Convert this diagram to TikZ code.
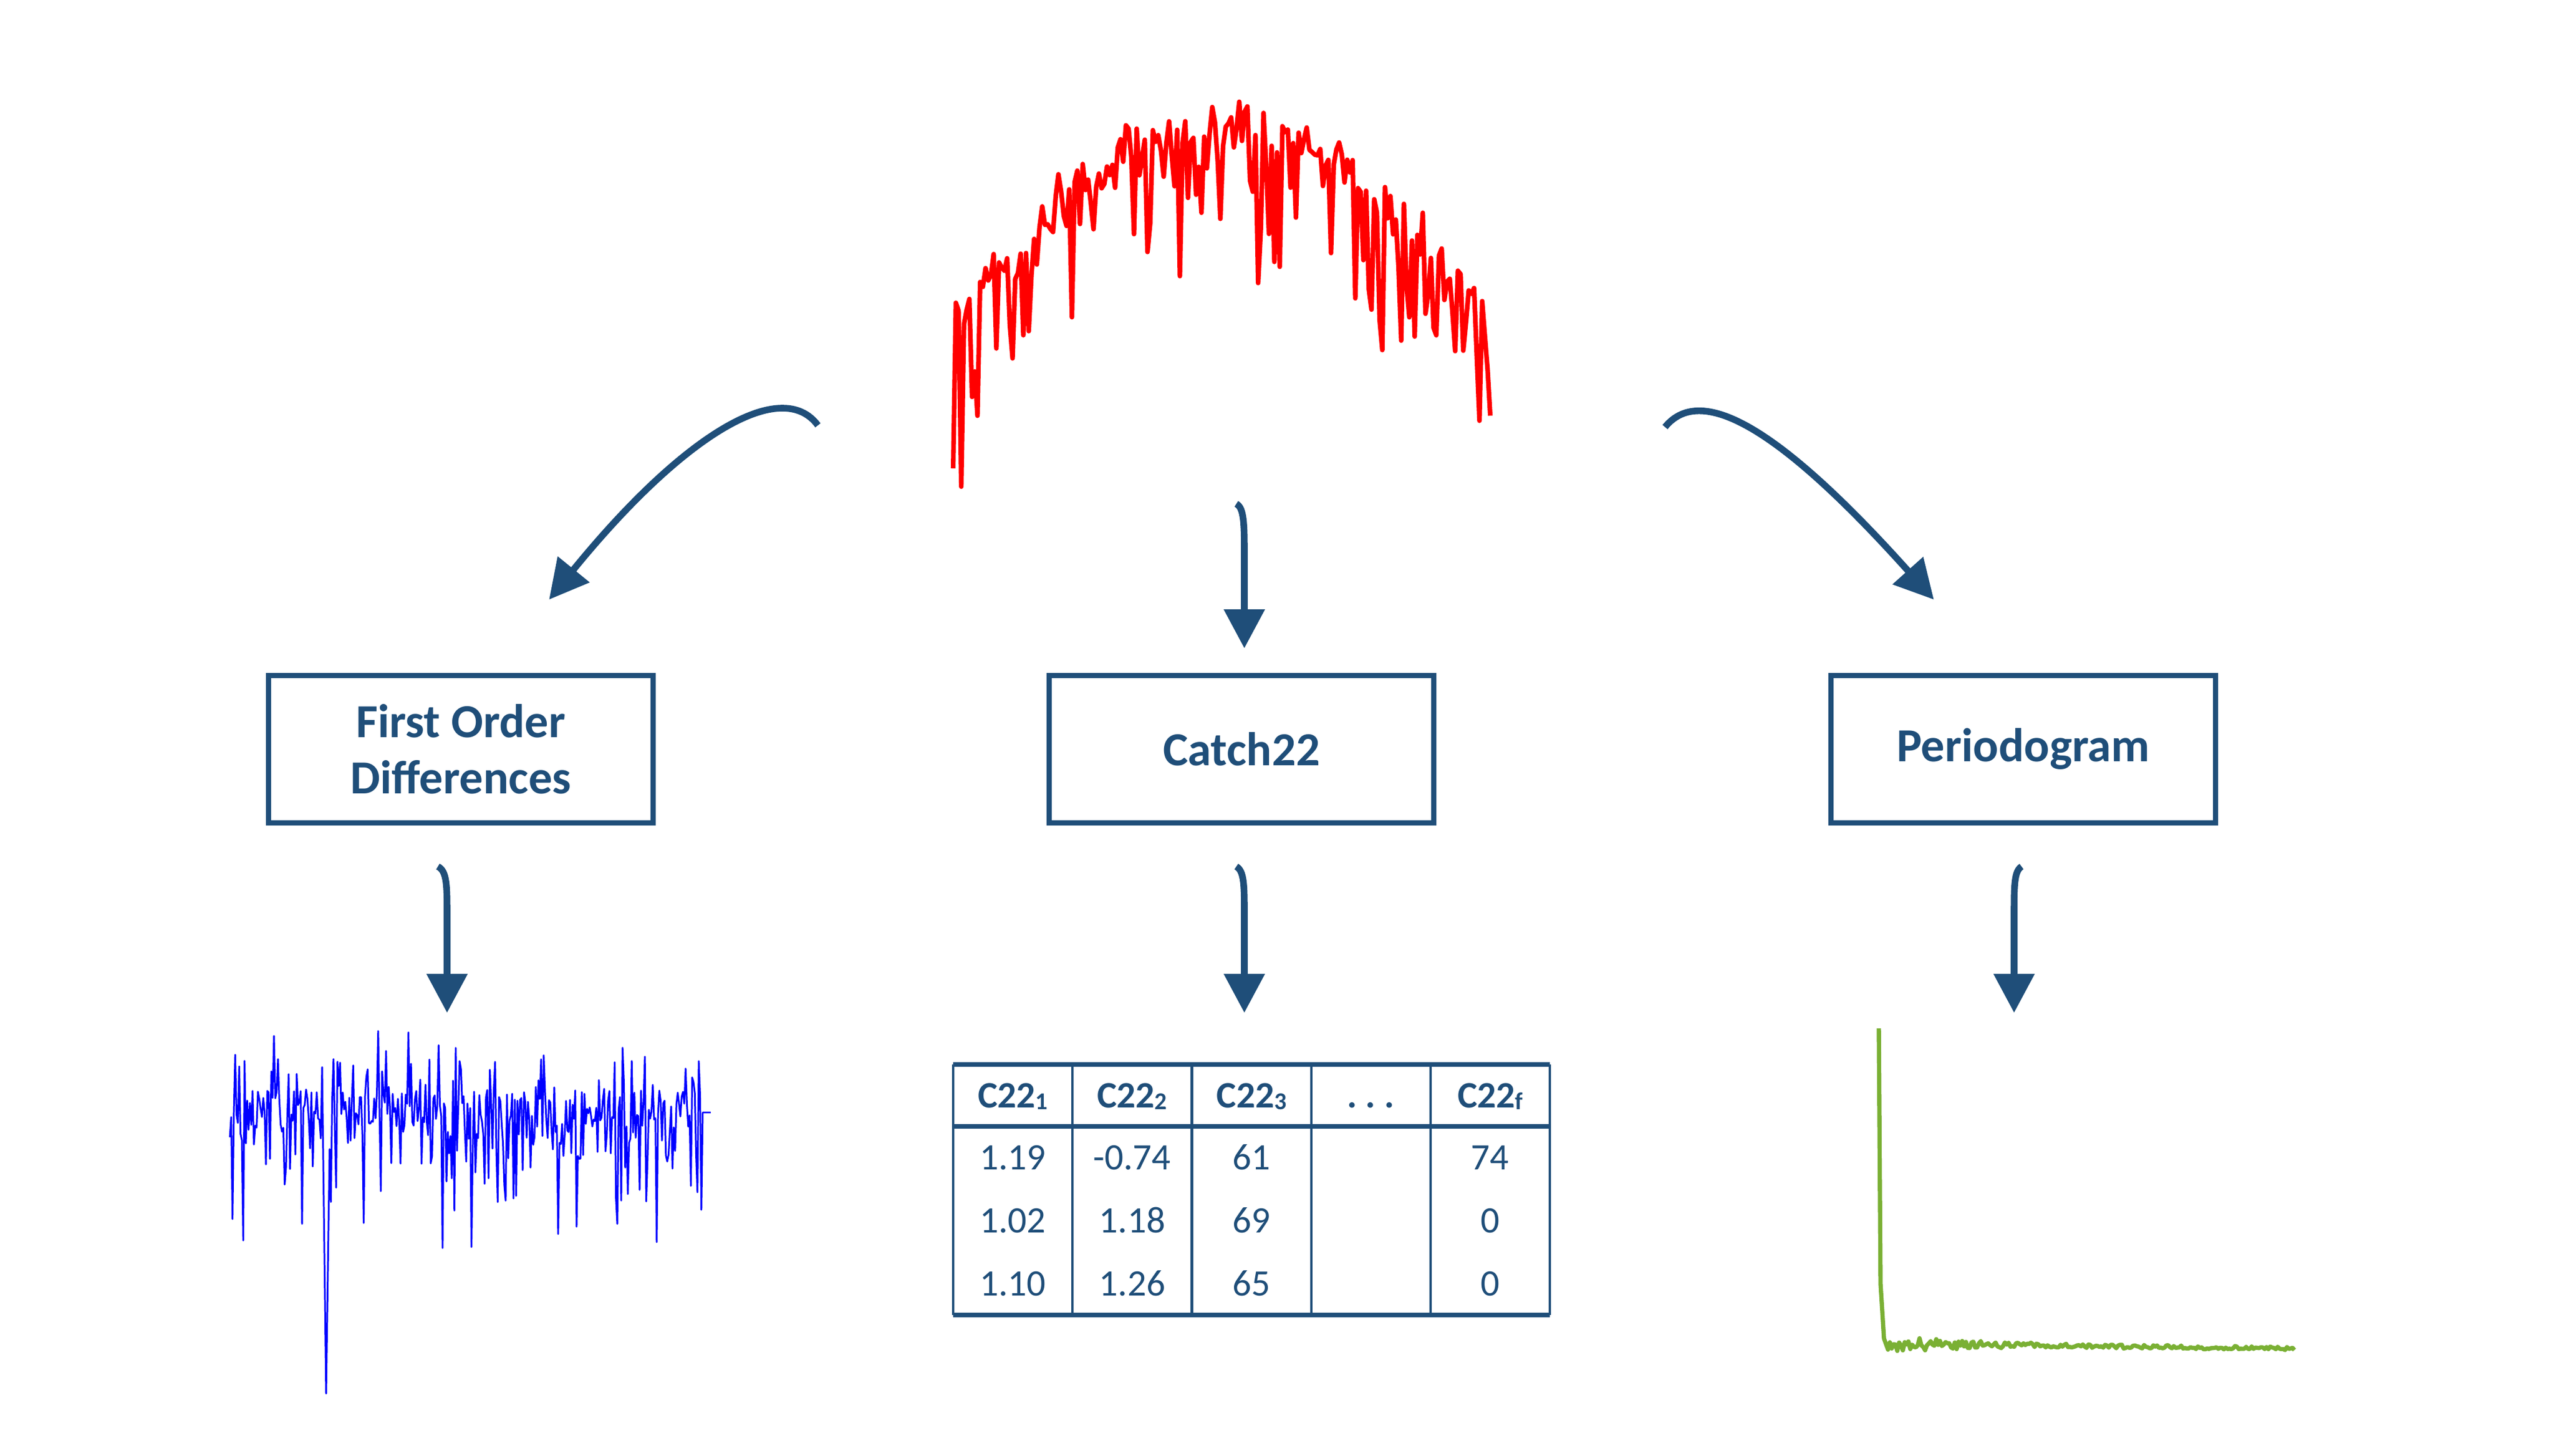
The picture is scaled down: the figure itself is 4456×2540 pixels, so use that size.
\documentclass[tikz,border=0pt]{standalone}
\usepackage{fontspec}
\setmainfont{Carlito}
\usetikzlibrary{arrows.meta}

\definecolor{navy}{RGB}{31,78,121}
\definecolor{sigred}{RGB}{255,0,0}
\definecolor{diffblue}{RGB}{0,0,255}
\definecolor{pgreen}{RGB}{122,176,52}

\tikzset{
  stage/.style={draw=navy, line width=2.6pt, minimum width=6.71cm, minimum height=2.56cm,
    align=center, text=navy, inner sep=0pt, font=\fontsize{23.5}{28}\selectfont\bfseries},
  flow/.style={navy, line width=3.3pt, -{Triangle[length=0.68cm,width=0.69cm]}},
  cell/.style={text=navy, inner sep=0pt, anchor=base, font=\fontsize{18.5}{21}\selectfont},
  headcell/.style={cell, font=\fontsize{18.5}{21}\selectfont\bfseries},
}
\newcommand{\featsub}[1]{\raisebox{-0.12ex}{\fontsize{12}{12}\selectfont #1}}

\begin{document}
\begin{tikzpicture}[x=0.01cm, y=-0.01cm]
        \useasboundingbox (0,0) rectangle (4456,2540);

            % raw series
            \pgfmathsetseed{2207}
            \draw[sigred, line width=2.3pt, line join=round]
              plot[domain=-1:1, samples=200] ({2132+469*\x}, {205+360*\x*\x+40*rand+300*pow(rnd,4)});

            % the three transforms
            \node[stage] (fod) at (804,1307) {First Order\\Differences};
            \node[stage] (c22) at (2166,1307) {Catch22};
            \node[stage] (pgram) at (3530,1307) {Periodogram};

            \coordinate (fodfrom) at (1427,742);
            \coordinate (fodto) at (958,1046);
            \coordinate (c22from) at (2157,879);
            \coordinate (c22to) at (2171,1131);
            \coordinate (pgramfrom) at (2905,745);
            \coordinate (pgramto) at (3374,1046);

            \draw[flow] (fodfrom) .. controls (1364,657) and (1194,756) .. (fodto);
            \draw[flow] (pgramfrom) .. controls (2970,665) and (3114,756) .. (pgramto);
            \draw[flow] (c22from) .. controls (2171,886) and (2171,916) .. (2171,975) -- (c22to);

            % outputs
            \foreach \stg/\sx/\ex in {fod/-0.40/-0.24, c22/-0.09/0.05, pgram/-0.03/-0.16}{
              \draw[flow] ([xshift=\sx cm, yshift=-0.72cm]\stg.south)
                .. controls ([xshift=\ex cm, yshift=-0.80cm]\stg.south) and ([xshift=\ex cm, yshift=-1.05cm]\stg.south)
                .. ([xshift=\ex cm, yshift=-1.6cm]\stg.south) -- ([xshift=\ex cm, yshift=-3.27cm]\stg.south);
            }

            % first order differences
            \pgfmathsetseed{4051}
            \draw[diffblue, line width=0.85pt, line join=round]
              plot[domain=401:562, samples=70] (\x, {1945+45*rand-125*pow(rnd,5)+230*pow(rnd,6)})
              -- (569,2431)
              -- plot[domain=575:1226, samples=285] (\x, {1945+45*rand-125*pow(rnd,5)+230*pow(rnd,6)})
              -- ++(14,0);

            % catch22 table
            \foreach \xx in {0,...,5}{
              \draw[navy, line width=1.2pt] ({1663+208.2*\xx},1857) -- ({1663+208.2*\xx},2294);
            }
            \foreach \yy in {1857,1965,2294}{
              \draw[navy, line width=2pt] (1663,\yy) -- (2704,\yy);
            }
            \foreach \col/\lbl in {1/{C22\featsub{1}}, 2/{C22\featsub{2}}, 3/{C22\featsub{3}}, 4/{.\hspace{0.15cm}.\hspace{0.15cm}.}, 5/{C22\featsub{f}}}{
              \node[headcell] (head-\col) at ({1663+208.2*(\col-0.5)},1932) {\lbl};
            }
            \foreach \row/\va/\vb/\vc/\vf in {1/1.19/-0.74/61/74, 2/1.02/1.18/69/0, 3/1.10/1.26/65/0}{
              \node[cell] (val-\row-1) at (1767.1,{1931+109.7*\row}) {\va};
              \node[cell] (val-\row-2) at (1975.3,{1931+109.7*\row}) {\vb};
              \node[cell] (val-\row-3) at (2183.5,{1931+109.7*\row}) {\vc};
              \node[cell] (val-\row-5) at (2599.9,{1931+109.7*\row}) {\vf};
            }

            % periodogram
            \pgfmathsetseed{77}
            \draw[pgreen, line width=2.1pt, line join=round]
              (3278,1794) -- (3281,2240) -- (3287,2335)
              -- plot[domain=3294:4003, samples=220] (\x, {2344+0.012*(\x-3294)+(3+14*exp(-(\x-3294)/120))*rand});

        \end{tikzpicture}
\end{document}
